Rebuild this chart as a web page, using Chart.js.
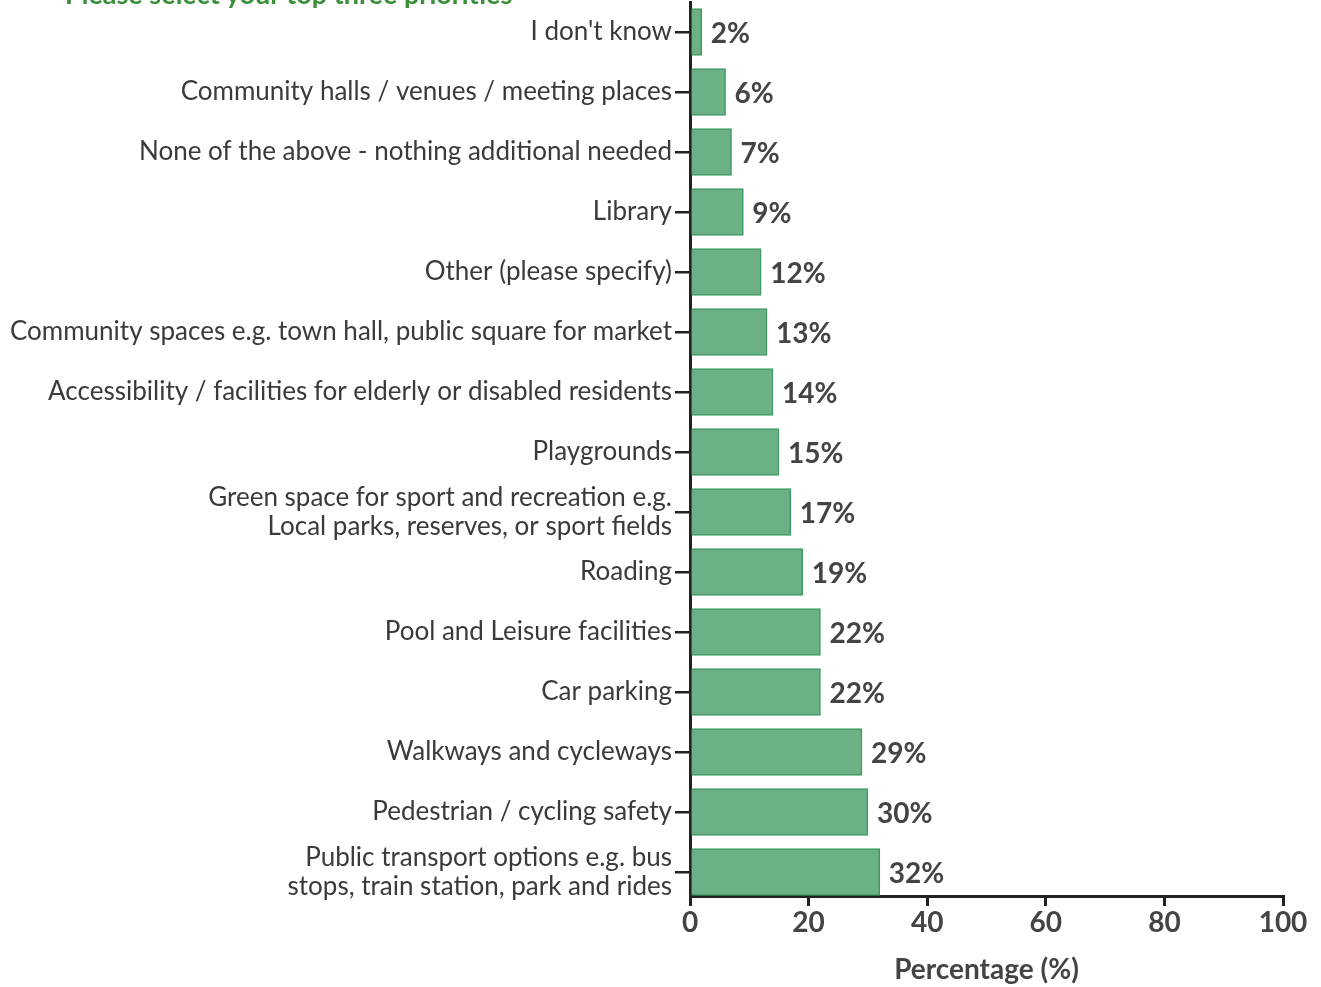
<!DOCTYPE html>
<html lang="en">
<head>
<meta charset="UTF-8">
<title>Top three priorities</title>
<script src="https://cdn.jsdelivr.net/npm/chart.js"></script>
<style>
  html, body { margin: 0; padding: 0; background: #fff; overflow: hidden; }
  #wrap { position: relative; width: 1321px; height: 987px; }
  #heading { position: absolute; left: 65px; top: -21px; margin: 0; font: bold 27px Lato, sans-serif; line-height: 30px; color: #3b8f3b; }
  canvas { position: absolute; left: 0; top: 0; }
</style>
</head>
<body>
<div id="wrap">
  <canvas id="prioChart" width="1321" height="987"></canvas>
  <div id="heading">Please select your top three priorities</div>
</div>
<script>
const categories = [
  "I don't know",
  "Community halls / venues / meeting places",
  "None of the above - nothing additional needed",
  "Library",
  "Other (please specify)",
  "Community spaces e.g. town hall, public square for market",
  "Accessibility / facilities for elderly or disabled residents",
  "Playgrounds",
  ["Green space for sport and recreation e.g.", "Local parks, reserves, or sport fields"],
  "Roading",
  "Pool and Leisure facilities",
  "Car parking",
  "Walkways and cycleways",
  "Pedestrian / cycling safety",
  ["Public transport options e.g. bus", "stops, train station, park and rides"]
];
const percentages = [2, 6, 7, 9, 12, 13, 14, 15, 17, 19, 22, 22, 29, 30, 32];
const xTicks = [0, 20, 40, 60, 80, 100];

const points = percentages.map((v, i) => ({ x: v, y: i }));

// percentage labels at the bar ends
const barLabels = {
  id: 'barLabels',
  afterDatasetsDraw(chart) {
    const ctx = chart.ctx;
    ctx.save();
    ctx.font = 'bold 28px Lato, sans-serif';
    ctx.fillStyle = '#444';
    ctx.textAlign = 'left';
    ctx.textBaseline = 'middle';
    chart.getDatasetMeta(0).data.forEach((bar, i) => {
      ctx.fillText(percentages[i] + '%', bar.x + 9, bar.y + 2);
    });
    ctx.restore();
  }
};

new Chart(document.getElementById('prioChart'), {
  type: 'bar',
  data: {
    datasets: [{
      data: points,
      backgroundColor: '#6cb086',
      borderColor: '#3e9a60',
      borderWidth: 1.5,
      barThickness: 47
    }]
  },
  plugins: [barLabels],
  options: {
    indexAxis: 'y',
    responsive: false,
    animation: false,
    layout: { padding: { top: 2, right: 38, bottom: 0, left: 0 } },
    plugins: { legend: { display: false }, tooltip: { enabled: false } },
    scales: {
      y: {
        type: 'linear',
        reverse: true,
        offset: false,
        min: -0.5,
        max: 14.4,
        afterBuildTicks: s => { s.ticks = categories.map((_, i) => ({ value: i })); },
        afterFit: s => { s.width = 690; s.paddingTop = 0; s.paddingBottom = 0; },
        border: { display: true, color: '#222', width: 3 },
        grid: { offset: false, drawOnChartArea: false, drawTicks: true, tickLength: 15, color: '#222', lineWidth: 2.5 },
        ticks: {
          autoSkip: false,
          padding: 3,
          color: '#3a3a3a',
          font: { family: 'Lato, sans-serif', size: 26, lineHeight: 1.1 },
          callback: v => categories[v]
        }
      },
      x: {
        type: 'linear',
        min: 0,
        max: 100,
        afterBuildTicks: s => { s.ticks = xTicks.map(v => ({ value: v })); },
        afterFit: s => { s.height = 91; },
        border: { display: true, color: '#222', width: 3 },
        grid: { drawOnChartArea: false, drawTicks: true, tickLength: 10, color: '#222', lineWidth: 3 },
        ticks: {
          padding: 0,
          color: '#444',
          font: { family: 'Lato, sans-serif', size: 28, weight: 'bold' }
        },
        title: {
          display: true,
          text: 'Percentage (%)',
          color: '#444',
          padding: { top: 0, bottom: 0 },
          font: { family: 'Lato, sans-serif', size: 28, weight: 'bold' }
        }
      }
    }
  }
});
</script>
</body>
</html>
